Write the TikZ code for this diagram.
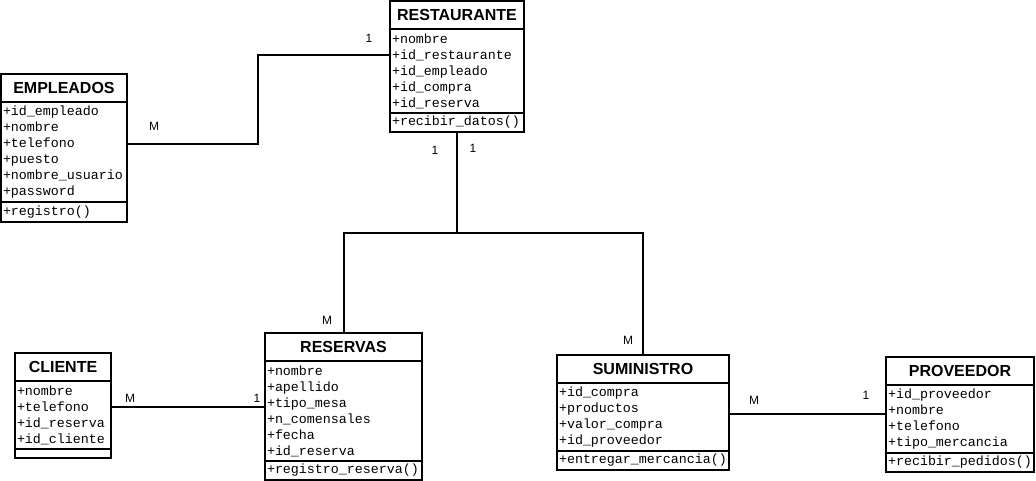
\documentclass[tikz,border=0pt]{standalone}
\usepackage{fontspec}
\setmainfont{Liberation Sans}
\newfontfamily\umlmono{Liberation Mono}
\usetikzlibrary{positioning}
\tikzset{
  boxpart/.style={draw, line width=2pt, outer sep=0pt, inner xsep=2pt, inner ysep=0pt, anchor=north west},
  titlepart/.style={boxpart, minimum height=28pt, align=center, font=\fontsize{16}{19}\selectfont\bfseries},
  listpart/.style={boxpart, align=left, font=\umlmono\fontsize{13.33}{16}\selectfont},
  link/.style={line width=2pt},
  card/.style={inner sep=0pt, font=\fontsize{12}{14}\selectfont}
}
% name, x, y, width, title, attr height, attrs, method height, methods
\newcommand{\umlclass}[9]{
  \node[titlepart, minimum width=#4pt] (#1t) at (#2,#3) {#5};
  \node[listpart, text width=#4pt-4pt, minimum height=#6pt] (#1a) at (#1t.south west) {#7};
  \node[listpart, text width=#4pt-4pt, minimum height=#8pt] (#1m) at (#1a.south west) {#9};
}
\newcommand{\cardnode}[4]{\node[card] (#1) at ( #2 , #3 ) {#4};}

\begin{document}
\begin{tikzpicture}[x=1pt, y=-1pt]
        \useasboundingbox (0,0) rectangle (1036,481);
        % classes
        \umlclass{rest}{390}{1}{134}{RESTAURANTE}{84}{+nombre\\+id\_restaurante\\+id\_empleado\\+id\_compra\\+id\_reserva}{19}{+recibir\_datos()}
        \umlclass{emp}{1}{74}{126}{EMPLEADOS}{100}{+id\_empleado\\+nombre\\+telefono\\+puesto\\+nombre\_usuario\\+password}{20}{+registro()}
        \umlclass{cli}{15}{353}{96}{CLIENTE}{68}{+nombre\\+telefono\\+id\_reserva\\+id\_cliente}{9}{}
        \umlclass{resv}{265}{333}{157}{RESERVAS}{100}{+nombre\\+apellido\\+tipo\_mesa\\+n\_comensales\\+fecha\\+id\_reserva}{19}{+registro\_reserva()}
        \umlclass{sum}{557}{355}{172}{SUMINISTRO}{68}{+id\_compra\\+productos\\+valor\_compra\\+id\_proveedor}{19}{+entregar\_mercancia()}
        \umlclass{prov}{886}{357}{148}{PROVEEDOR}{68}{+id\_proveedor\\+nombre\\+telefono\\+tipo\_mercancia}{19}{+recibir\_pedidos()}
        % links
        \draw[link] ([yshift=8pt]empa.east) -- ++(131,0) |- ([yshift=16pt]resta.west);
        \coordinate (junc) at (457,233);
        \draw[link] (restm.south) -- (junc);
        \draw[link] (resvt.north) |- (junc) -| (sumt.north);
        \draw[link] ([yshift=8pt]clia.east) -- ([yshift=4pt]resva.west);
        \draw[link] ([yshift=3pt]suma.east) -- ([yshift=5pt]prova.west);
        % cardinalities
        \cardnode{crest}{369}{38}{1}
        \cardnode{cemp}{154}{126}{M}
        \cardnode{crestl}{435}{150}{1}
        \cardnode{crestr}{473}{148}{1}
        \cardnode{cresv}{327}{320}{M}
        \cardnode{csum}{628}{340}{M}
        \cardnode{ccli}{130}{398}{M}
        \cardnode{cresvl}{257}{398}{1}
        \cardnode{csumr}{754}{400}{M}
        \cardnode{cprov}{866}{395}{1}
\end{tikzpicture}
\end{document}
